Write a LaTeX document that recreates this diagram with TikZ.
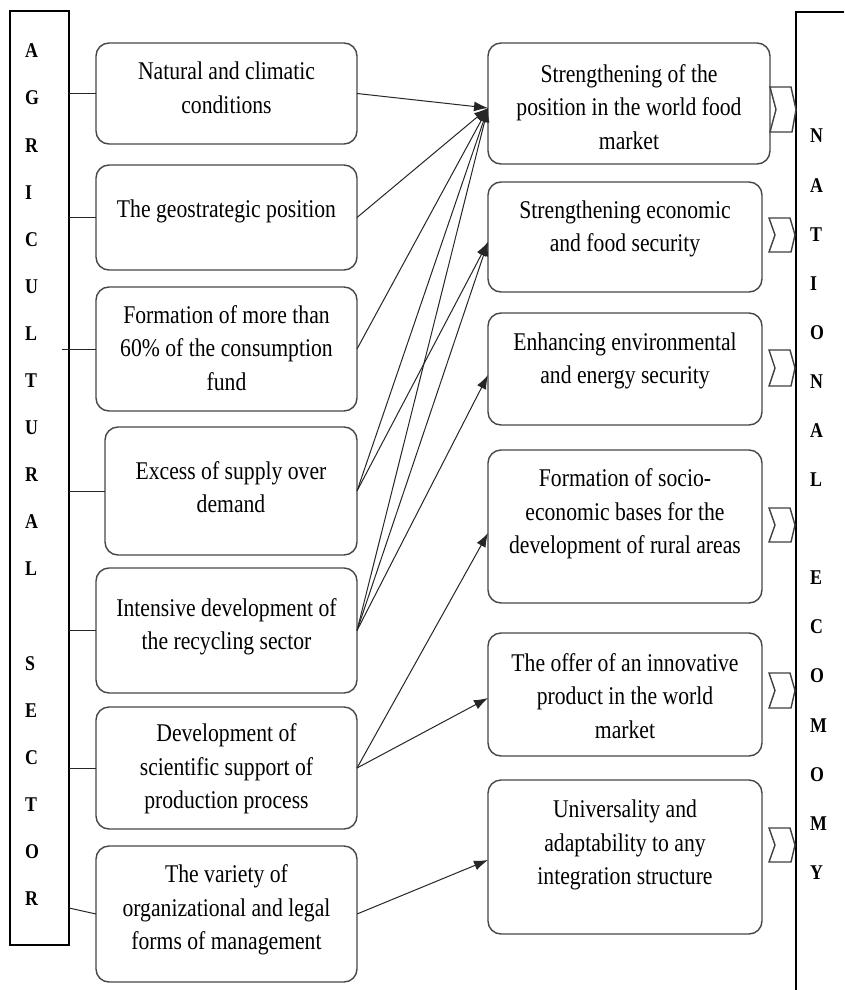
\documentclass[tikz,border=0pt]{standalone}
\usepackage{fontspec}
\setmainfont{Liberation Serif}[FakeStretch=0.85]
\usetikzlibrary{arrows.meta}

% notched arrow marker: left x, top y, bottom y
\newcommand\drawchev[3]{%
  \draw[chev] (#1,#2) -- ({#1+21},#2) -- ({#1+26},{(#2+#3)/2}) -- ({#1+22},#3)
    -- (#1,#3) -- ({#1+6},{(#2+#3)/2}) -- cycle;}

\begin{document}
\begin{tikzpicture}[x=1pt,y=-1pt,
  box/.style={draw=black!72, line width=1.4pt, rounded corners=13pt,
    inner sep=0pt, outer sep=0pt, fill=white},
  boxtext/.style={align=center, font=\fontsize{25.5}{33.5}\selectfont,
    text=black, inner sep=0pt},
  bartext/.style={anchor=west, font=\fontsize{21}{22}\selectfont\bfseries,
    inner sep=0pt, text=black},
  bar/.style={draw=black, line width=1.2pt, inner sep=0pt, outer sep=0pt},
  link/.style={draw=black!85, line width=1pt},
  arr/.style={link, -{Latex[length=14pt,width=10pt]}},
  chev/.style={draw=black!75, line width=1.4pt, fill=white, line join=miter}
]
\useasboundingbox[fill=white] (0,0) rectangle (844,990);

% ---- left vertical bar: AGRICULTURAL SECTOR
\node[bar, minimum width=59pt, minimum height=934pt] (agri) at (39.5,478) {};
\foreach \ch/\i in {A/0,G/1,R/2,I/3,C/4,U/5,L/6,T/7,U/8,R/9,A/10,L/11,
                    S/13,E/14,C/15,T/16,O/17,R/18}
  \node[bartext] (agri-\i) at (25,51+47.1*\i) {\ch};

% ---- right vertical bar: NATIONAL ECOMOMY
\draw[bar] (844,12) -- (796,12) -- (796,990);
\foreach \ch/\i in {N/0,A/1,T/2,I/3,O/4,N/5,A/6,L/7,
                    E/9,C/10,O/11,M/12,O/13,M/14,Y/15}
  \node[bartext] (natl-\i) at (810,136+49.1*\i) {\ch};

% ---- factor boxes (left column)
\node[box, minimum width=261pt, minimum height=101pt] (L1) at (226.5,93.5) {};
\node[boxtext] (L1t) at (226.5,88) {Natural and climatic\\conditions};
\node[box, minimum width=261pt, minimum height=105pt] (L2) at (226.5,217.5) {};
\node[boxtext] (L2t) at (226.5,211) {The geostrategic position};
\node[box, minimum width=261pt, minimum height=124pt] (L3) at (226.5,349) {};
\node[boxtext] (L3t) at (226.5,348) {Formation of more than\\60\% of the consumption\\fund};
\node[box, minimum width=252pt, minimum height=128pt] (L4) at (231,491) {};
\node[boxtext] (L4t) at (231,487) {Excess of supply over\\demand};
\node[box, minimum width=261pt, minimum height=125pt] (L5) at (226.5,630.5) {};
\node[boxtext] (L5t) at (226.5,627) {Intensive development of\\the recycling sector};
\node[box, minimum width=261pt, minimum height=122pt] (L6) at (226.5,768) {};
\node[boxtext] (L6t) at (226.5,769) {Development of\\scientific support of\\production process};
\node[box, minimum width=261pt, minimum height=136pt] (L7) at (226.5,914) {};
\node[boxtext] (L7t) at (226.5,910) {The variety of\\organizational and legal\\forms of management};

% ---- effect boxes (right column)
\node[box, minimum width=282pt, minimum height=121pt] (R1) at (629,103.5) {};
\node[boxtext] (R1t) at (629,107) {Strengthening of the\\position in the world food\\market};
\node[box, minimum width=274pt, minimum height=110pt] (R2) at (625,237) {};
\node[boxtext] (R2t) at (625,229) {Strengthening economic\\and food security};
\node[box, minimum width=274pt, minimum height=112pt] (R3) at (625,369) {};
\node[boxtext] (R3t) at (625,361) {Enhancing environmental\\and energy security};
\node[box, minimum width=274pt, minimum height=153pt] (R4) at (625,526.5) {};
\node[boxtext] (R4t) at (625,514) {Formation of socio-\\economic bases for the\\development of rural areas};
\node[box, minimum width=274pt, minimum height=123pt] (R5) at (625,694.5) {};
\node[boxtext] (R5t) at (625,696) {The offer of an innovative\\product in the world\\market};
\node[box, minimum width=274pt, minimum height=154pt] (R6) at (625,857) {};
\node[boxtext] (R6t) at (625,845) {Universality and\\adaptability to any\\integration structure};

% ---- markers between effect boxes and the right bar
\drawchev{770}{87}{132}
\drawchev{769}{218}{252}
\drawchev{769}{350}{386}
\drawchev{769}{508}{542}
\drawchev{769}{673}{708}
\drawchev{769}{828}{862}

% ---- ties from the left bar to the factor boxes
\coordinate (a3) at (62,349);
\coordinate (a7) at (69,908);
\draw[link] (agri.east |- L1.west) -- (L1.west);
\draw[link] (agri.east |- L2.west) -- (L2.west);
\draw[link] (a3) -- (L3.west);
\draw[link] (agri.east |- L4.west) -- (L4.west);
\draw[link] (agri.east |- L5.west) -- (L5.west);
\draw[link] (agri.east |- L6.west) -- (L6.west);
\draw[link] (a7) -- (L7.west);

% ---- arrows from factors to effects
\draw[arr] (L1.east) -- ([yshift=-4.5pt]R1.west);
\draw[arr] (L2.east) -- ([yshift=-4.5pt]R1.west);
\draw[arr] (L3.east) -- ([yshift=-4.5pt]R1.west);
\draw[arr] (L4.east) -- ([yshift=-4.5pt]R1.west);
\draw[arr] (L5.east) -- ([yshift=-4.5pt]R1.west);
\draw[arr] (L4.east) -- ([yshift=-5pt]R2.west);
\draw[arr] (L5.east) -- ([yshift=-5pt]R2.west);
\draw[arr] (L5.east) -- ([yshift=-6pt]R3.west);
\draw[arr] (L6.east) -- ([yshift=-6.5pt]R4.west);
\draw[arr] (L6.east) -- ([yshift=-3.5pt]R5.west);
\draw[arr] (L7.east) -- ([yshift=-3pt]R6.west);
\end{tikzpicture}
\end{document}
